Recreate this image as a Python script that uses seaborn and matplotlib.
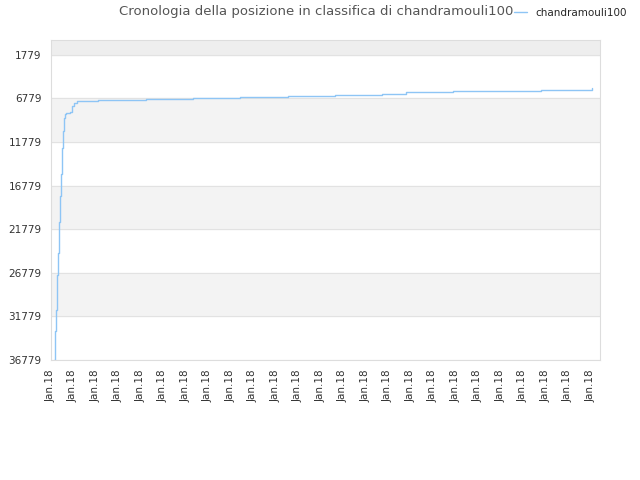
import matplotlib
matplotlib.use("Agg")
import matplotlib.pyplot as plt
import seaborn as sns
import pandas as pd

# time step index vs. rank position
step = [3, 4, 5, 6, 7, 8, 9, 10, 11, 12, 13, 14, 15, 19, 21, 23, 26, 47, 95, 143, 190, 238, 285, 332, 356, 403, 491, 540, 542]
rank = [36779, 33500, 31000, 27000, 24500, 21000, 18000, 15500, 12500, 10500, 9000, 8600, 8450, 8300, 7700, 7300, 7050, 6940, 6820, 6700, 6580, 6460, 6340, 6220, 6020, 5900, 5790, 5780, 5560]
yticks = [1779, 6779, 11779, 16779, 21779, 26779, 31779, 36779]
xlabels = ["Jan.18"] * 25

df = pd.DataFrame({"step": step, "rank": rank})

sns.set_style("white")
plt.rcParams['font.family'] = ['DejaVu Sans']
fig, ax = plt.subplots(figsize=(6.4, 4.8), dpi=100)
fig.subplots_adjust(left=0.079, right=0.938, top=0.917, bottom=0.25)

ax.axhspan(60, 1779, color="#eeeeee", zorder=0)
for lo in [6779, 16779, 26779]:
    ax.axhspan(lo, lo + 5000, color="#f3f3f3", zorder=0)
for t in yticks:
    ax.axhline(t, color="#e2e2e2", lw=0.8, zorder=0)

sns.lineplot(data=df, x="step", y="rank", ax=ax, color="#8ec5f5", lw=1,
             drawstyle="steps-post", label="chandramouli100")
ax.set_ylim(36779, 60)
ax.set_xlim(0, 550)
ax.set_yticks(yticks)
ax.set_yticklabels([str(t) for t in yticks], fontsize=7.5, color="#333333")
ax.set_xticks([i * 22.5 for i in range(25)])
ax.set_xticklabels(xlabels, rotation=90, fontsize=7.5, color="#333333")
ax.set_xlabel("")
ax.set_ylabel("")
ax.tick_params(length=3, color="#cccccc")
for s in ax.spines.values():
    s.set_color("#dddddd")

fig.text(0.186, 0.975, "Cronologia della posizione in classifica di chandramouli100",
         fontsize=9.5, color="#555555", va="center")
ax.legend(loc="center right", bbox_to_anchor=(1.065, 1.085), frameon=True,
          facecolor="white", edgecolor="white", framealpha=1, fontsize=7.5,
          handlelength=1.2)
fig.savefig("out.png")
